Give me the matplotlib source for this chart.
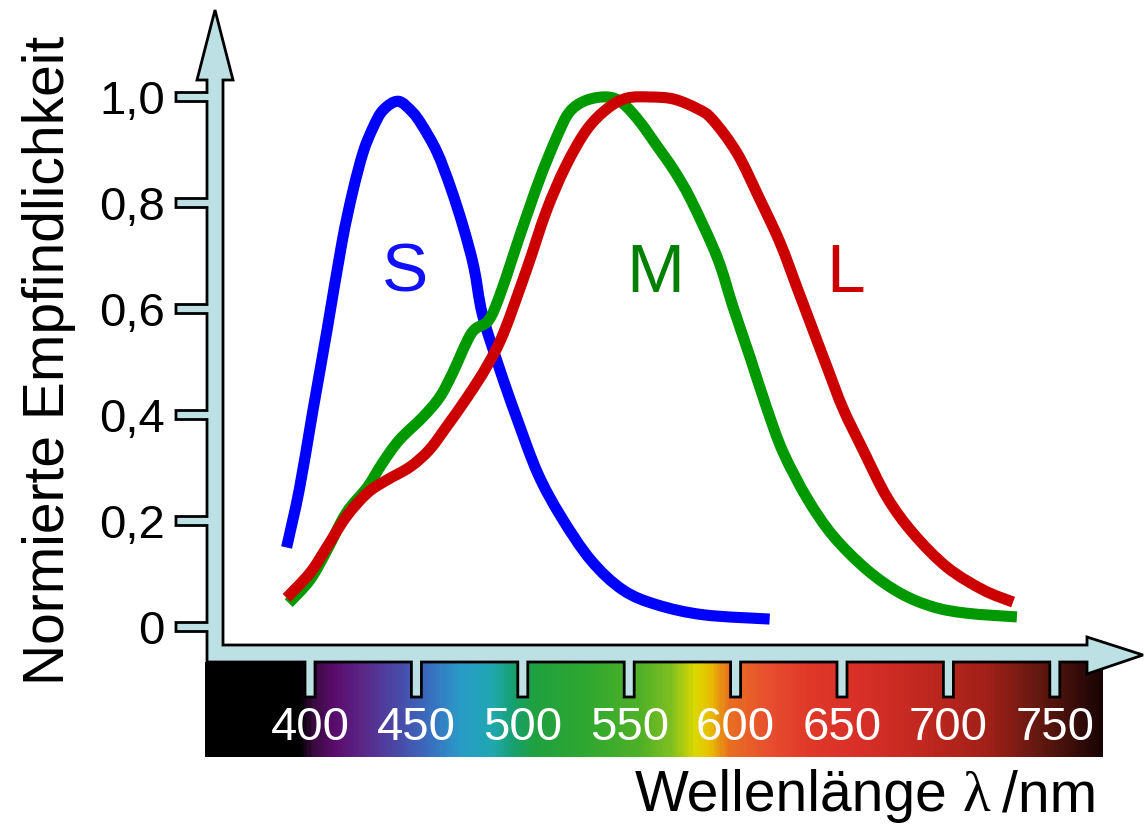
import numpy as np
import matplotlib
matplotlib.use('Agg')
import matplotlib.pyplot as plt
from matplotlib.path import Path
from matplotlib.patches import PathPatch
from matplotlib.colors import LinearSegmentedColormap
import matplotlib.transforms as mtransforms

W, H = 1144, 825
FONT = 'Liberation Sans'

# ---- data: wavelength (nm) / normalised sensitivity ----
s_wl = [389, 395, 401, 408, 415, 420, 425, 429.6, 434.3, 441.4, 448, 452.6,
        459.7, 466, 472, 477, 481, 489, 497, 507, 518, 532, 547, 563, 585, 616]
s_val = [0.15, 0.26, 0.40, 0.56, 0.725, 0.82, 0.896, 0.942, 0.975, 0.992,
         0.972, 0.947, 0.896, 0.83, 0.755, 0.679, 0.59, 0.488, 0.396, 0.29,
         0.208, 0.126, 0.07, 0.042, 0.023, 0.015]

m_wl = [390, 400, 408, 417, 427, 434, 442, 453, 461, 467, 476, 484, 490, 499,
        508, 516, 522, 530, 540, 547, 555, 563, 571, 579, 591.3, 598.8, 606.8,
        614.8, 622.3, 633.6, 645.8, 661.7, 677.3, 692.8, 708.7, 732.2]
m_val = [0.045, 0.089, 0.145, 0.215, 0.264, 0.309, 0.353, 0.396, 0.434, 0.479,
         0.555, 0.579, 0.635, 0.743, 0.846, 0.925, 0.972, 0.994, 1.0, 0.988,
         0.953, 0.908, 0.862, 0.806, 0.698, 0.604, 0.509, 0.411, 0.33, 0.243,
         0.172, 0.108, 0.064, 0.038, 0.026, 0.019]

l_wl = [389, 400, 408, 417, 427, 436, 447, 456, 464, 474, 483, 491, 502, 511,
        520, 530, 540, 549, 560, 571, 582, 589, 600.7, 611.5, 620.9, 628.9,
        635, 643, 650.5, 659.9, 671.1, 683.4, 699.3, 716.3, 730.4]
l_val = [0.055, 0.102, 0.151, 0.208, 0.253, 0.277, 0.302, 0.334, 0.377, 0.434,
         0.491, 0.555, 0.677, 0.784, 0.868, 0.938, 0.979, 0.998, 1.0, 0.996,
         0.978, 0.958, 0.894, 0.806, 0.725, 0.64, 0.575, 0.49, 0.412, 0.334,
         0.245, 0.177, 0.113, 0.07, 0.047]

y_ticks = [0, 0.2, 0.4, 0.6, 0.8, 1.0]
y_ticklabels = ['0', '0,2', '0,4', '0,6', '0,8', '1,0']
x_ticks = [400, 450, 500, 550, 600, 650, 700, 750]

# spectrum colour stops (nm, colour)
spec_wl = [350, 394, 400, 410, 425, 440, 455, 470, 485, 495, 505, 530, 555,
           570, 581, 588, 597, 615, 635, 660, 690, 720, 745, 773]
spec_col = ['#000000', '#000000', '#3a0a40', '#5a0c6c', '#5a2a8a', '#4a4aa8',
            '#3a6ec0', '#2a9cc8', '#20a8b0', '#18a070', '#20a040', '#30a830',
            '#50b028', '#80c020', '#dcd800', '#e8c000', '#e87020', '#e85030',
            '#e03828', '#d83028', '#c02820', '#a02018', '#601810', '#1a0505']

AX_BLUE = '#bde0e4'
BLUE = '#0000ff'
GREEN = '#009900'
RED = '#cc0000'

fig = plt.figure(figsize=(W / 100, H / 100), dpi=100, facecolor='white')
ax = fig.add_axes([0, 0, 1, 1])
ax.axis('off')

# pixel anchors of the original: 400 nm at x=310, 2.128 px/nm; 0 at y=627, 530 px per unit
def lam(px):
    return 400 + (px - 310) / 2.128

def val(py):
    return (627 - py) / 530

ax.set_xlim(lam(0), lam(W))
ax.set_ylim(val(H), val(0))

# pixel transform, origin top-left (decoration only)
T = mtransforms.Affine2D().scale(1, -1).translate(0, H)

# ---- spectrum bar ----
stops = [(w - spec_wl[0]) / (spec_wl[-1] - spec_wl[0]) for w in spec_wl]
cmap = LinearSegmentedColormap.from_list('spec', list(zip(stops, spec_col)))
grad = np.linspace(0, 1, 600)[None, :]
ax.imshow(grad, cmap=cmap, aspect='auto', interpolation='bilinear',
          extent=[lam(205), lam(1103), val(757), val(662)], zorder=1)

# ---- axis arrows with tick stubs, as one outline ----
def to_px(x, y):
    d = ax.transData.transform((x, y))
    return d[0], H - d[1]

xt_px = [to_px(t, 0)[0] for t in x_ticks]
yt_px = [to_px(lam(300), t)[1] for t in y_ticks]

XL, XR, YT, YB = 207, 223, 645, 662
verts = [(215, 10), (233, 80), (XR, 80), (XR, YT), (1087, YT), (1087, 637),
         (1143, 655), (1087, 674), (1087, YB)]
for xc in sorted(xt_px, reverse=True):
    verts += [(xc + 5, YB), (xc + 5, 697), (xc - 5, 697), (xc - 5, YB)]
verts += [(XL, YB)]
for yc in sorted(yt_px, reverse=True):
    verts += [(XL, yc + 4.5), (176, yc + 4.5), (176, yc - 4.5), (XL, yc - 4.5)]
verts += [(XL, 80), (197, 80), (215, 10)]
codes = [Path.MOVETO] + [Path.LINETO] * (len(verts) - 2) + [Path.CLOSEPOLY]
ax.add_patch(PathPatch(Path(verts, codes), facecolor=AX_BLUE, edgecolor='black',
                       lw=2.0, joinstyle='miter', transform=T, zorder=2,
                       clip_on=False))


# ---- curves: smooth (Catmull-Rom as cubic Bezier) through the read points ----
def smooth_path(x, y):
    p = np.column_stack([x, y]).astype(float)
    # work in display units so the tangents are not distorted by the aspect
    q = ax.transData.transform(p)
    ext = np.vstack([q[0], q, q[-1]])
    verts = [p[0]]
    codes = [Path.MOVETO]
    inv = ax.transData.inverted()
    for i in range(1, len(ext) - 2):
        p0, p1, p2, p3 = ext[i - 1], ext[i], ext[i + 1], ext[i + 2]
        c1 = p1 + (p2 - p0) / 6
        c2 = p2 - (p3 - p1) / 6
        verts += list(inv.transform(np.array([c1, c2, p2])))
        codes += [Path.CURVE4] * 3
    return Path(verts, codes)


for wl, v, c in [(s_wl, s_val, BLUE), (m_wl, m_val, GREEN), (l_wl, l_val, RED)]:
    ax.add_patch(PathPatch(smooth_path(wl, v), fill=False, edgecolor=c, lw=8,
                           capstyle='butt', joinstyle='round', zorder=3))

ax.text(405, 292, 'S', transform=T, fontsize=50, color='#1010ff', family=FONT,
        ha='center', va='baseline')
ax.text(655, 292, 'M', transform=T, fontsize=50, color='#008000', family=FONT,
        ha='center', va='baseline')
ax.text(846, 292, 'L', transform=T, fontsize=50, color='#cc0000', family=FONT,
        ha='center', va='baseline')

# ---- tick labels ----
for yc, lab in zip(yt_px, y_ticklabels):
    ax.text(165, yc + 17, lab, transform=T, fontsize=34, family=FONT,
            ha='right', va='baseline')
for xc, t in zip(xt_px, x_ticks):
    ax.text(xc, 740, str(t), transform=T, fontsize=34, family=FONT,
            color='white', ha='center', va='baseline')

# ---- axis titles ----
ax.text(49, 360, 'Normierte Empfindlichkeit', transform=T, fontsize=41,
        family=FONT, rotation=90, ha='center', va='center')

fig.canvas.draw()
r = fig.canvas.get_renderer()
x_right = 1097
t3 = ax.text(x_right, 811, '/nm', transform=T, fontsize=41, family=FONT,
             ha='right', va='baseline')
x_right -= t3.get_window_extent(r).width + 12
t2 = ax.text(x_right, 811, 'λ', transform=T, fontsize=41,
             family='Liberation Serif', ha='right', va='baseline')
x_right -= t2.get_window_extent(r).width + 15
ax.text(x_right, 811, 'Wellenlänge', transform=T, fontsize=41, family=FONT,
        ha='right', va='baseline')

fig.savefig('out.png', dpi=100, facecolor='white')
